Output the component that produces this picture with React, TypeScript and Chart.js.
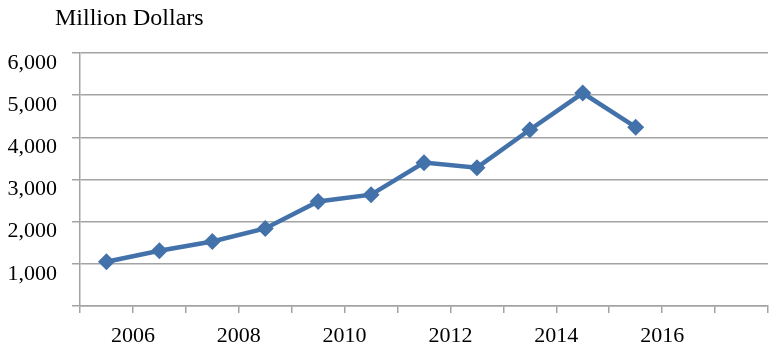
import React, { useEffect, useRef } from "react";
import { Chart, registerables } from "chart.js";

Chart.register(...registerables);

// Data: yearly values (million dollars), plotted at mid-year
const years = [2005, 2006, 2007, 2008, 2009, 2010, 2011, 2012, 2013, 2014, 2015];
const values = [1050, 1310, 1530, 1840, 2480, 2640, 3400, 3280, 4180, 5050, 4240];
const xLabels = [2006, 2008, 2010, 2012, 2014, 2016];
const yTicks = [1000, 2000, 3000, 4000, 5000, 6000];
const unitTitle = "Million Dollars";

const FONT = '"Liberation Serif", "Times New Roman", serif';
const GRID = "#a3a3a3";
const LINE = "#4372aa";

export default function App() {
  const ref = useRef<HTMLCanvasElement | null>(null);

  useEffect(() => {
    if (!ref.current) return;
    const titlePlugin = {
      id: "unitTitle",
      afterDraw(chart: any) {
        const ctx = chart.ctx;
        ctx.save();
        ctx.font = `24px ${FONT}`;
        ctx.fillStyle = "#000";
        ctx.textAlign = "left";
        ctx.textBaseline = "alphabetic";
        ctx.fillText(unitTitle, 55, 25);
        ctx.restore();
      },
    };
    const chart = new Chart(ref.current, {
      type: "line",
      data: {
        datasets: [
          {
            data: years.map((y, i) => ({ x: y + 0.5, y: values[i] })),
            borderColor: LINE,
            backgroundColor: LINE,
            borderWidth: 4.5,
            pointStyle: "rectRot",
            pointRadius: 8.5,
            pointBorderWidth: 0,
            tension: 0,
          },
        ],
      },
      options: {
        responsive: false,
        animation: false,
        layout: { padding: { top: 53, right: 15, left: 0, bottom: 0 } },
        plugins: { legend: { display: false }, tooltip: { enabled: false } },
        scales: {
          x: {
            type: "linear",
            min: 2005,
            max: 2018,
            afterFit(scale: any) {
              scale.height = 53;
            },
            ticks: {
              stepSize: 1,
              autoSkip: false,
              maxRotation: 0,
              padding: 10,
              color: "#000",
              font: { family: FONT, size: 22 },
              callback: (v: any) => (xLabels.includes(Number(v)) ? String(v) : ""),
            },
            grid: {
              drawOnChartArea: false,
              drawTicks: true,
              tickLength: 7,
              color: GRID,
              lineWidth: 1.5,
            },
            border: { color: GRID, width: 1.5 },
          },
          y: {
            min: 0,
            max: 6000,
            afterFit(scale: any) {
              scale.width = 80;
            },
            ticks: {
              stepSize: 1000,
              padding: 15,
              labelOffset: 10,
              color: "#000",
              font: { family: FONT, size: 22 },
              callback: (v: any) =>
                yTicks.includes(Number(v)) ? Number(v).toLocaleString("en-US") : "",
            },
            grid: {
              drawTicks: true,
              tickLength: 8,
              color: GRID,
              lineWidth: 1.5,
            },
            border: { color: GRID, width: 1.5 },
          },
        },
      },
      plugins: [titlePlugin],
    } as any);
    return () => chart.destroy();
  }, []);

  return (
    <div style={{ position: "absolute", left: 0, top: 0, width: 783, height: 359, background: "#fff" }}>
      <canvas ref={ref} width={783} height={359} style={{ display: "block" }} />
    </div>
  );
}
